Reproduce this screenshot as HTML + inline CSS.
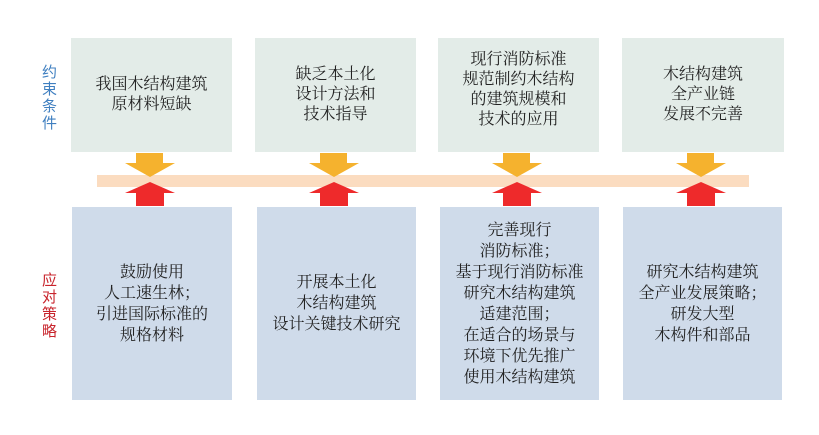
<!DOCTYPE html>
<html><head><meta charset="utf-8"><style>
body{margin:0;width:819px;height:435px;background:#fff;position:relative;overflow:hidden;font-family:"Liberation Serif","Noto Serif CJK SC",serif;}
.b{position:absolute;display:flex;align-items:center;justify-content:center;text-align:center;font-size:16px;line-height:20px;color:#222;}
.t{background:#e3ece8;top:38px;height:114px;}
.d{background:#cfdbea;top:207px;height:193px;line-height:21px;}
.lab{position:absolute;left:42px;width:16px;font-size:15px;line-height:17px;font-family:"Liberation Sans","Noto Sans CJK SC",sans-serif;}
</style></head><body>
<div class="lab" style="top:64px;color:#3f7fc0">约<br>束<br>条<br>件</div>
<div class="lab" style="top:272px;color:#c8242c">应<br>对<br>策<br>略</div>

<div class="b t" style="left:71px;width:161px">我国木结构建筑<br>原材料短缺</div>
<div class="b t" style="left:255px;width:161px">缺乏本土化<br>设计方法和<br>技术指导</div>
<div class="b t" style="left:438px;width:161px;align-items:flex-start;padding-top:12px;height:102px">现行消防标准<br>规范制约木结构<br>的建筑规模和<br>技术的应用</div>
<div class="b t" style="left:622px;width:162px">木结构建筑<br>全产业链<br>发展不完善</div>

<div style="position:absolute;left:97px;top:175px;width:652px;height:12px;background:#fbdcc0"></div>

<svg width="819" height="435" style="position:absolute;left:0;top:0">
<g id="a">
<polygon points="136,153 163,153 163,163 175,163 150,177 125,163 136,163" fill="#f5b22e"/>
<polygon points="150,182 175,193 164,193 164,206 136,206 136,193 125,193" fill="#ee2a2b"/>
</g>
<use href="#a" x="184"/><use href="#a" x="367"/><use href="#a" x="551"/>
</svg>

<div class="b d" style="left:72px;width:160px">鼓励使用<br>人工速生林；<br>引进国际标准的<br>规格材料</div>
<div class="b d" style="left:257px;width:159px">开展本土化<br>木结构建筑<br>设计关键技术研究</div>
<div class="b d" style="left:440px;width:159px">完善现行<br>消防标准；<br>基于现行消防标准<br>研究木结构建筑<br>适建范围；<br>在适合的场景与<br>环境下优先推广<br>使用木结构建筑</div>
<div class="b d" style="left:623px;width:159px">研究木结构建筑<br>全产业发展策略；<br>研发大型<br>木构件和部品</div>
</body></html>
